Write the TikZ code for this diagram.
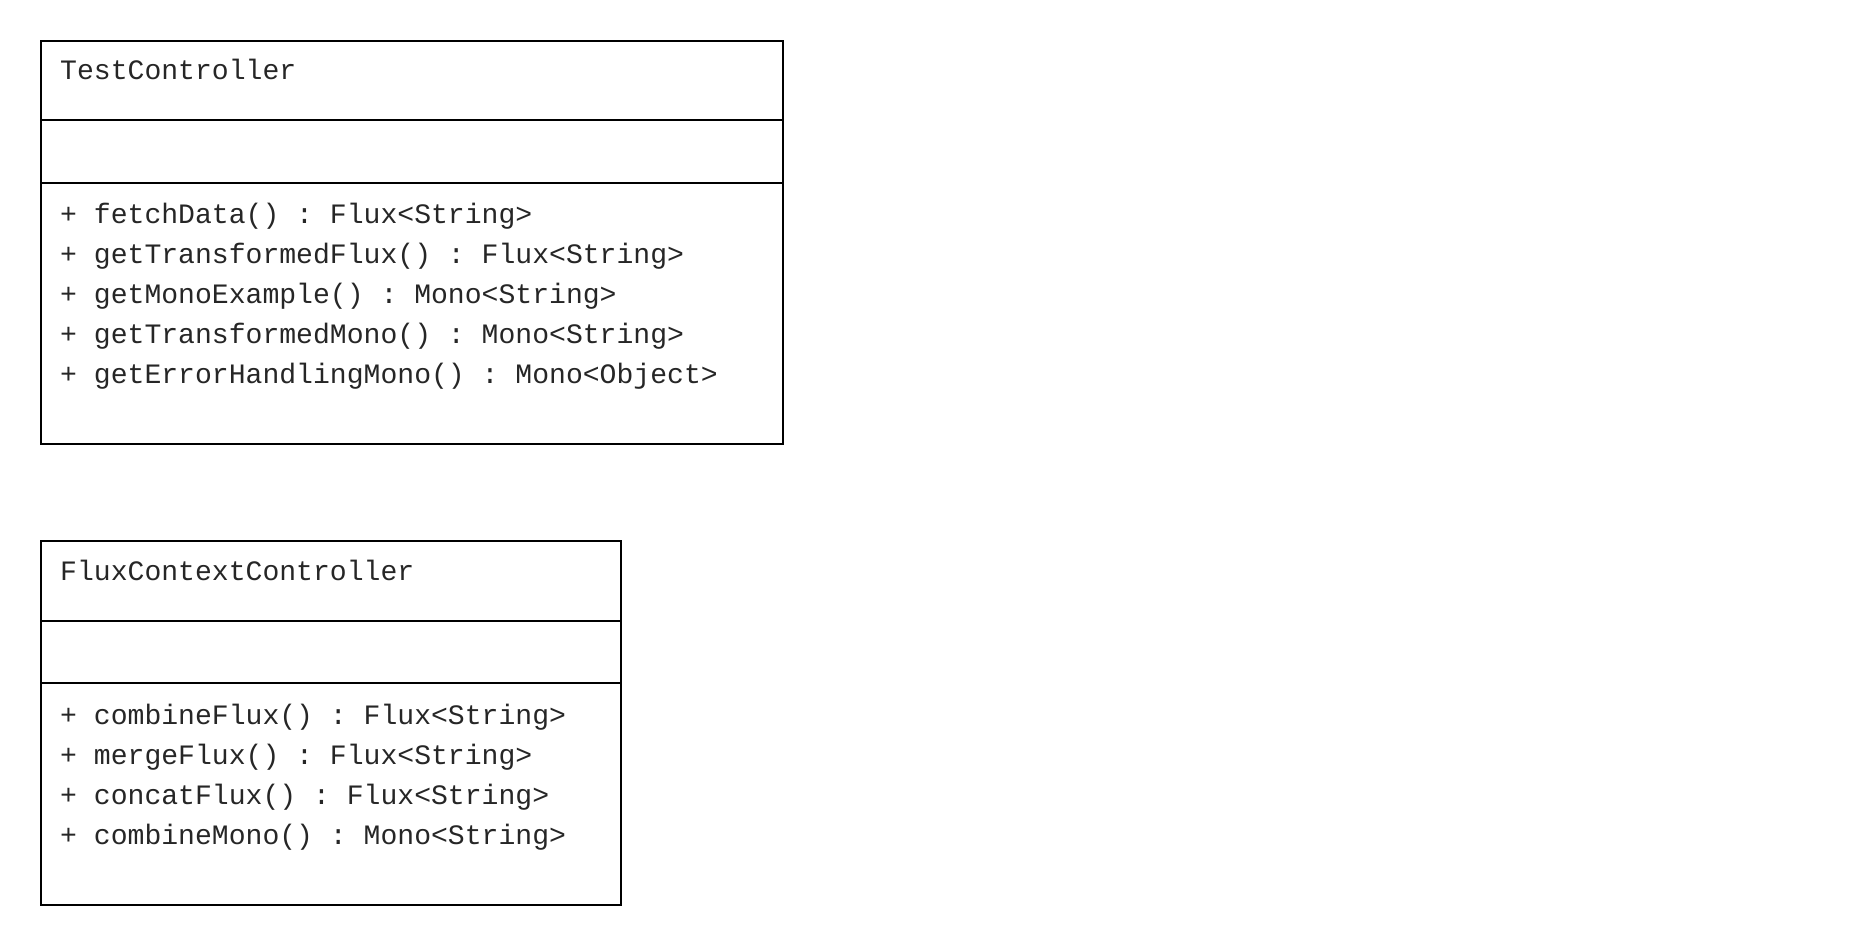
\documentclass[tikz,border=0pt]{standalone}
\usepackage{fontspec}
\setmonofont{Liberation Mono}
\begin{document}
\begin{tikzpicture}[x=1pt,y=1pt,
  comp/.style={draw=black, line width=2pt, anchor=north west, inner sep=0pt, fill=none},
  txt/.style={anchor=base west, inner sep=0pt, font=\ttfamily\fontsize{28.1pt}{40pt}\selectfont, text=black!85}]
\useasboundingbox (0,0) rectangle (1876,-944);
% TestController
\node[comp, minimum width=742pt, minimum height=79pt] (tcname) at (40,-40) {};
\node[comp, minimum width=742pt, minimum height=63pt] (tcattr) at (40,-119) {};
\node[comp, minimum width=742pt, minimum height=261pt] (tcops) at (40,-182) {};
\node[txt] (tct) at (60,-80) {TestController};
\node[txt] (tc1) at (60,-223) {+ fetchData() : Flux<String>};
\node[txt] (tc2) at (60,-263) {+ getTransformedFlux() : Flux<String>};
\node[txt] (tc3) at (60,-303) {+ getMonoExample() : Mono<String>};
\node[txt] (tc4) at (60,-343) {+ getTransformedMono() : Mono<String>};
\node[txt] (tc5) at (60,-383) {+ getErrorHandlingMono() : Mono<Object>};
% FluxContextController
\node[comp, minimum width=580pt, minimum height=80pt] (fcname) at (40,-540) {};
\node[comp, minimum width=580pt, minimum height=62pt] (fcattr) at (40,-620) {};
\node[comp, minimum width=580pt, minimum height=222pt] (fcops) at (40,-682) {};
\node[txt] (fct) at (60,-580) {FluxContextController};
\node[txt] (fc1) at (60,-724) {+ combineFlux() : Flux<String>};
\node[txt] (fc2) at (60,-764) {+ mergeFlux() : Flux<String>};
\node[txt] (fc3) at (60,-804) {+ concatFlux() : Flux<String>};
\node[txt] (fc4) at (60,-844) {+ combineMono() : Mono<String>};
\end{tikzpicture}
\end{document}
